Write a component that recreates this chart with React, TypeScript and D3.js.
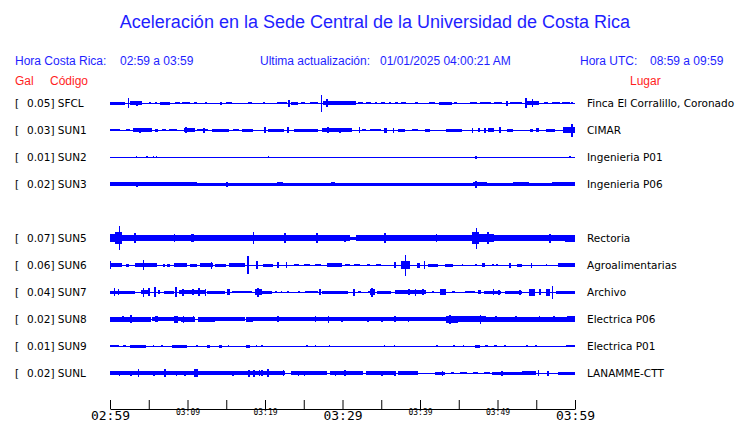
import * as d3 from "d3";
import React, { useEffect, useRef } from "react";

// station rows (SUN4 slot is left empty)
const codes = ["SFCL", "SUN1", "SUN2", "SUN3", "SUN5", "SUN6", "SUN7", "SUN8", "SUN9", "SUNL"];
const slots = [0, 1, 2, 3, 5, 6, 7, 8, 9, 10];
const gals = [0.05, 0.03, 0.01, 0.02, 0.07, 0.06, 0.04, 0.02, 0.01, 0.02];
const places = [
  "Finca El Corralillo, Coronado",
  "CIMAR",
  "Ingenieria P01",
  "Ingenieria P06",
  "Rectoria",
  "Agroalimentarias",
  "Archivo",
  "Electrica P06",
  "Electrica P01",
  "LANAMME-CTT",
];

// envelope segments: [start minute, end minute, half amplitude]
const sfclSegs = [[0,1.9,1.5],[2.3,2.5,5],[2.6,4.1,1.8],[3.4,3.6,2.5],[5,5.3,1.2],[5.8,6,1],[6.5,7.7,1.5],[8.4,9,1.2],[9.3,10.3,1.2],[10.8,11.2,1.2],[12.3,12.5,1],[14.2,14.4,1.5],[15,15.7,1.2],[17.8,18.3,1],[19.8,20,1],[21.5,22.8,1.3],[23,23.2,3.5],[23.4,24.3,1.5],[24.6,25.2,1],[25.8,26.8,1],[27.2,27.4,8.5],[27.5,31.8,1.8],[27.9,28.1,4],[32,32.6,1.2],[33,33.7,1.2],[34.2,34.5,1],[35,35.5,1],[36,36.3,1],[36.8,37.2,1],[37.6,38.2,1.2],[39.3,39.8,1.2],[41.2,41.9,1],[42.4,44.1,1.5],[44.4,44.8,1],[46.4,47.4,1],[47.8,49.2,1.2],[49.6,50.6,1],[51.1,51.3,2.5],[51.6,53.2,1.2],[53.6,53.8,5],[53.8,55.3,2],[54.4,54.6,4],[56,56.5,1],[57,58,1.2],[58.3,59.3,1.2],[59.5,59.8,1]];
const sun1Segs = [[0,1.3,1],[2,2.6,1],[3,5.4,1.6],[3.8,4,2.5],[5.8,6.2,1.5],[6.7,7.2,1],[7.6,8.6,1.2],[9.5,11,2.2],[9.7,9.9,3],[11.2,12.7,1.3],[12,12.2,2.5],[13.1,15.3,1.5],[15.9,16.6,1.2],[17,18.5,1.5],[19.9,20.1,3],[20.4,22.4,1.5],[22.9,23.1,3],[23.7,26.9,1.5],[27.3,31.2,2],[28,28.2,3],[29.6,29.8,2.5],[32.1,32.3,3],[32.5,33,1],[33.5,35,1],[35.4,35.8,2.5],[36.5,36.7,2.5],[37.2,38,1.5],[39,39.8,1.2],[40.6,41.3,1.5],[43.4,45.4,1.5],[46.7,46.9,2.5],[47.5,47.7,2],[48.3,48.5,2.5],[48.8,49.5,2],[50.2,50.4,3],[51.2,52,1.5],[54.2,54.6,1.5],[55,55.4,2],[56.3,57.4,1.5],[58.5,60,2.8],[59.5,59.7,6.5]];
const sun2Segs = [[3.3,3.5,1.2],[4.7,4.9,1],[5.6,5.7,1],[5.9,6,1],[20.4,20.5,0.8],[47.1,47.3,1.5],[59.2,59.5,1]];
const sun3Segs = [[0,60,1.5],[0,11.2,1.8],[3.4,3.6,2.5],[15,15.2,2.5],[21.5,22.3,1.8],[28.5,29,1.8],[46.9,48.6,2],[47.1,47.3,3.5],[52,54,1.8],[57,60,1.8]];
const sun5Segs = [[0,31,2.6],[31,31.8,1.5],[31.8,60,2.6],[0,1.6,4],[0.6,1.6,6],[1.1,1.3,12.3],[1.6,3.5,3.2],[3.1,3.3,5],[5.6,8.6,3.3],[8.2,8.4,4],[10.5,10.8,4],[12.5,14.4,3.3],[18.4,18.6,6],[19.9,20.7,3.3],[22.5,22.7,5],[23.4,27.7,3.3],[26.6,26.8,5],[30.2,30.4,3.5],[35.4,35.6,5],[37.2,40.6,3.3],[42,42.2,4],[44,45.7,3.3],[46.7,47.6,6],[47.2,47.4,10.5],[47.6,49.6,3.8],[48.7,48.9,6],[51,55.3,3.3],[56.7,56.9,4.5],[58.7,60,3.5]];
const sun6Segs = [[0,1.5,2],[0,0.15,4],[2,2.4,1.5],[3.2,6,2],[4.2,4.4,5.3],[6.8,7.1,1.5],[7.3,7.7,1.5],[8.2,9.9,1.8],[10.3,11.2,1.5],[11.6,13.3,2],[13,13.2,3.5],[13.5,15,1.5],[15.3,17.4,2],[17.7,17.9,9.3],[18.9,19.1,4],[19.8,21,1.5],[21.6,21.8,3],[22.7,22.9,3],[23.7,24.4,1.2],[25,25.8,1.2],[26.5,27.2,1.2],[28,29.9,2],[30.3,31,1.2],[31.5,32.2,1.2],[33.1,33.6,1.2],[34.3,35,1.2],[36.7,36.9,3],[37.6,38.7,4],[38,38.2,10.5],[39.6,40,2.5],[40.5,40.7,4],[41,42.3,1.5],[43.2,44.3,1.5],[45.4,45.6,1],[47.1,47.3,1],[48,48.4,2],[49.3,49.5,1],[49.8,50,1],[51.5,51.7,2.5],[52.5,53.2,1.5],[54.3,54.5,2.5],[56.2,56.4,1],[57.8,60,1.8]];
const sun7Segs = [[0,3.2,1.5],[0.5,0.7,4],[1,1.2,3],[4,5.2,2],[4.2,4.4,4.5],[4.9,5.1,4],[5.7,5.9,5],[6.2,6.5,2],[7,8.3,1.5],[8.4,8.6,5],[8.9,12.3,2],[9.3,9.5,3.5],[10.6,10.8,3],[11.4,11.6,4],[12.2,12.4,3.5],[12.5,14.8,1.5],[15.1,15.5,3],[15.8,18.3,1.2],[18.7,19.6,3],[19,19.2,4.5],[19.6,20.9,1.5],[21.3,21.5,1],[22,22.2,1],[22.9,23.1,1],[24.2,24.5,1],[25.2,26.9,1.2],[27,27.2,3],[27.3,30.7,1.5],[31.4,31.6,3.5],[32,32.4,1],[33.3,33.5,1],[33.5,34.2,3],[33.7,33.9,4.5],[34.4,36.3,1.5],[36.8,40.8,2],[38.5,38.7,3],[39.3,39.5,3.5],[40.3,40.5,3],[41.5,41.8,1],[42.6,43.3,3],[44.1,44.5,1],[45.8,47.1,1.2],[47.5,47.9,2],[48.2,50.5,1.5],[49.4,49.6,3],[50.1,50.3,2.5],[51,53.2,1.5],[52.8,53,2.5],[54.1,54.8,3.5],[55.4,55.6,3],[56.3,56.8,3.5],[57,57.2,6.5],[57.5,60,1.5]];
const sun8Segs = [[0,5.3,2.5],[2.6,2.8,4],[1.6,1.8,3],[5.4,8.2,1.9],[5.8,6.2,3],[8.2,8.8,3.5],[8.8,9.4,1.9],[9.2,11,2.5],[9.4,9.6,3.5],[10.7,10.9,3],[11.4,13.6,2.5],[13.6,17.4,2],[17.6,18.4,2.5],[18.4,43.4,1.9],[21.6,21.8,3],[26.4,26.6,3],[28.1,28.3,3.5],[29.8,30,2.5],[33.2,33.4,2.5],[35,35.2,2.5],[36.7,36.9,3],[38.4,38.6,2.5],[43.4,44.9,3.5],[43.8,44,4.5],[44.9,46.7,3],[46.7,48.5,3.2],[47.7,47.9,4.5],[48.5,60,2.5],[49.7,49.9,3],[52.3,52.5,3],[55.3,55.5,3],[57.2,57.4,3],[59,60,3.2]];
const sun9Segs = [[0,1.1,1.2],[1.7,2,1.2],[2.6,4.7,1.5],[5.5,5.7,1.2],[6.6,6.8,1.2],[8,9.9,1.5],[11.1,11.3,1.2],[12.5,12.9,1.5],[14,14.4,1.5],[15.2,15.4,1],[17.6,18.1,1.5],[18.8,19,1.2],[19.5,19.7,1],[25.3,25.5,1],[26.4,26.6,1.2],[28.2,28.4,1],[35.3,35.5,1],[36.6,36.8,1],[42.1,42.3,1],[44.2,44.5,1],[45.5,45.7,1],[47.1,47.7,1.5],[48.4,48.8,1.2],[49.5,49.9,1.2],[50.9,51.1,1],[53.7,53.9,1],[54.9,55.1,1],[58.9,60,1.2]];
const sunlSegs = [[0,22.6,1.8],[1.1,1.3,2.5],[2.6,2.8,2.5],[3.6,3.8,4],[5.6,5.8,2.5],[7,7.2,4],[8.5,8.7,2.5],[9.6,9.8,2.5],[10.9,11.3,4],[15.8,16,2.5],[17.8,18,3.5],[18.5,18.7,3.5],[19.2,19.4,3],[19.5,19.7,3],[20.3,20.5,4],[22.3,22.5,3],[23.4,28,1.6],[24.2,24.4,2.5],[25,25.2,2.5],[28.4,32.6,1.6],[29,29.2,2.5],[30.2,30.4,3],[33,36.8,1.6],[35,35.2,2.5],[36.7,36.9,2.5],[37.2,39.8,1.6],[41.9,43.2,1.5],[42.8,43,2.5],[44,44.4,1.2],[45.2,46,1.2],[46.8,47.5,1.2],[48.3,49,1.2],[49.3,53.2,1.5],[50.5,50.7,2.5],[53.2,55,1.8],[55.2,55.4,3],[56.4,56.6,2.5],[57.8,60,1.5]];
const traces = [sfclSegs, sun1Segs, sun2Segs, sun3Segs, sun5Segs, sun6Segs, sun7Segs, sun8Segs, sun9Segs, sunlSegs];

const tickMinutes = [0, 5, 10, 15, 20, 25, 30, 35, 40, 45, 50, 55, 60];
const bigTicks = [0, 30, 60];

const BLUE = "#0000ff";
const TEXT_BLUE = "#1e1eff";
const RED = "#ff1e1e";

const App: React.FC = () => {
  const ref = useRef<SVGSVGElement>(null);

  useEffect(() => {
    document.body.style.margin = "0";
    const width = 740;
    const height = 423;

    d3.select(ref.current).selectAll("*").remove();
    const svg = d3.select(ref.current).attr("width", width).attr("height", height)
      .style("display", "block");

    svg.append("rect").attr("width", width).attr("height", height).attr("fill", "#fff");

    const start = new Date(2025, 0, 1, 2, 59);
    const x = d3.scaleTime()
      .domain([start, d3.timeMinute.offset(start, 60)])
      .range([110, 575]);
    const xm = (m: number) => x(new Date(start.getTime() + m * 60000));

    const row = d3.scaleLinear().domain([0, 10]).range([103, 373]);

    // title + header
    svg.append("text")
      .attr("x", 375).attr("y", 28)
      .attr("text-anchor", "middle")
      .style("font-family", "Liberation Sans, Arial, sans-serif")
      .style("font-size", "18px")
      .attr("fill", TEXT_BLUE)
      .text("Aceleración en la Sede Central de la Universidad de Costa Rica");

    const header = [
      [15, "Hora Costa Rica:"], [120, "02:59 a 03:59"],
      [260, "Ultima actualización:"], [380, "01/01/2025 04:00:21 AM"],
      [580, "Hora UTC:"], [650, "08:59 a 09:59"],
    ] as [number, string][];
    header.forEach(([hx, t]) => {
      svg.append("text")
        .attr("x", hx).attr("y", 65)
        .style("font-family", "Liberation Sans, Arial, sans-serif")
        .style("font-size", "12px")
        .attr("fill", TEXT_BLUE)
        .text(t);
    });
    ([[15, "Gal"], [50, "Código"], [630, "Lugar"]] as [number, string][]).forEach(([hx, t]) => {
      svg.append("text")
        .attr("x", hx).attr("y", 85)
        .style("font-family", "Liberation Sans, Arial, sans-serif")
        .style("font-size", "12px")
        .attr("fill", RED)
        .text(t);
    });

    // traces
    traces.forEach((segs, i) => {
      const cy = row(slots[i]);
      const y = d3.scaleLinear().domain([-12, 12]).range([cy + 12, cy - 12]);
      const g = svg.append("g").attr("shape-rendering", "crispEdges");

      g.append("rect")
        .attr("x", xm(0)).attr("width", xm(60) - xm(0))
        .attr("y", y(0.5)).attr("height", y(-0.5) - y(0.5))
        .attr("fill", BLUE);

      g.selectAll("rect.seg")
        .data(segs)
        .enter()
        .append("rect")
        .attr("class", "seg")
        .attr("x", (d) => xm(d[0]))
        .attr("width", (d) => Math.max(1, xm(d[1]) - xm(d[0])))
        .attr("y", (d) => y(d[2]))
        .attr("height", (d) => y(-d[2]) - y(d[2]))
        .attr("fill", BLUE);

      const label = svg.append("g")
        .style("font-family", "DejaVu Sans, sans-serif")
        .style("font-size", "10.5px")
        .attr("fill", "#000");
      label.append("text").attr("x", 15).attr("y", cy + 4).text("[");
      label.append("text").attr("x", 27).attr("y", cy + 4).text(`${gals[i].toFixed(2)}] ${codes[i]}`);
      label.append("text").attr("x", 587).attr("y", cy + 4).text(places[i]);
    });

    // time axis
    const fmt = d3.timeFormat("%H:%M");
    const axis = d3.axisBottom(x)
      .tickValues(tickMinutes.map((m) => d3.timeMinute.offset(start, m)))
      .tickSizeInner(-9)
      .tickSizeOuter(0)
      .tickFormat((d, i) => (i % 2 === 0 ? fmt(d as Date) : ""));

    const ag = svg.append("g")
      .attr("transform", "translate(0,409)")
      .call(axis);
    ag.select(".domain").attr("stroke", "#000");
    ag.selectAll(".tick line").attr("stroke", "#000");
    ag.selectAll<SVGTextElement, Date>(".tick text")
      .attr("fill", "#000")
      .style("font-family", "DejaVu Sans Mono, monospace")
      .each(function (d) {
        const m = Math.round((d.getTime() - start.getTime()) / 60000);
        const big = bigTicks.includes(m);
        d3.select(this)
          .style("font-size", big ? "13px" : "8px")
          .attr("y", big ? 2 : 0);
      });
  }, []);

  return <svg ref={ref}></svg>;
};

export default App;
